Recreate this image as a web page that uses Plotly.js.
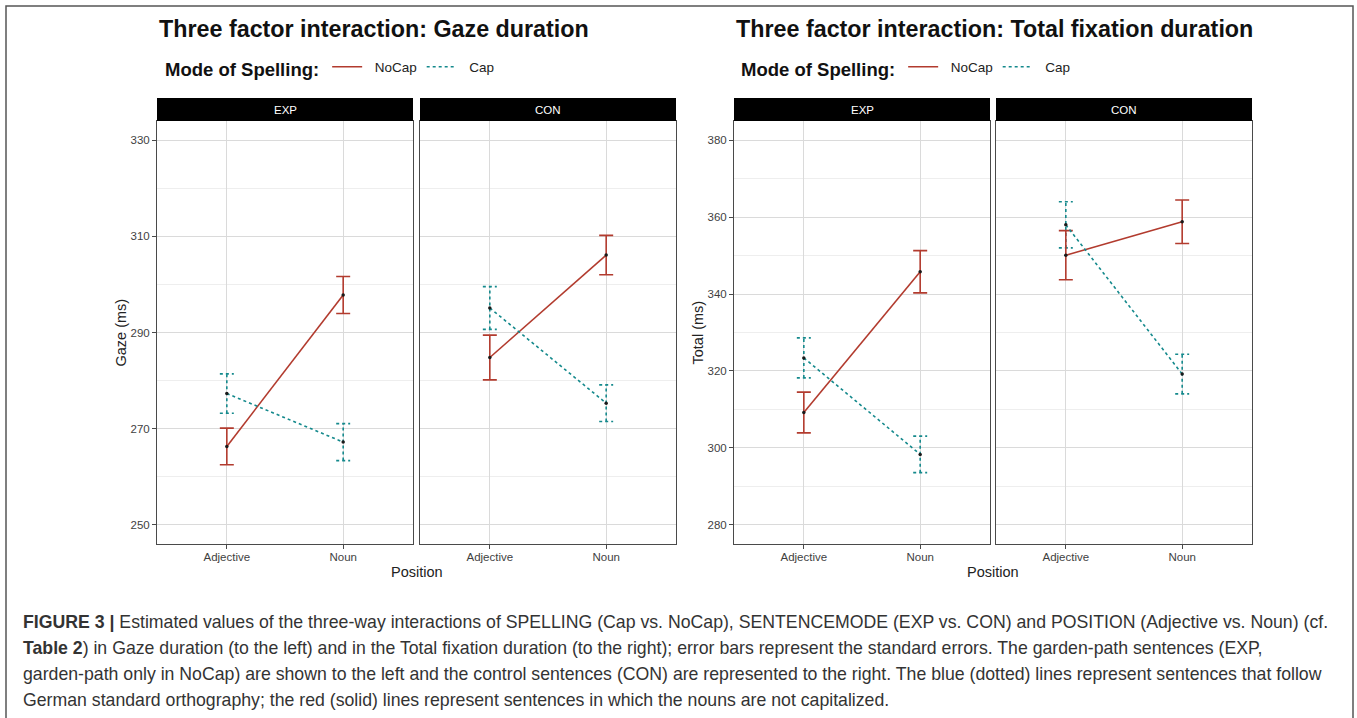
<!DOCTYPE html>
<html>
<head>
<meta charset="utf-8">
<script src="https://cdn.plot.ly/plotly-3.0.1.min.js"></script>
<style>html,body{margin:0;padding:0;background:#fff;}#chart{width:1357px;height:718px;}</style>
</head>
<body>
<div id="chart"></div>
<script>
// ---------------- data ----------------
const positions = ["Adjective", "Noun"];
const spellingModes = ["NoCap", "Cap"];
const sentenceModes = ["EXP", "CON"];

// Gaze duration (ms): mean estimates and standard errors
const gazeExpNoCap = [266.3, 297.8];
const gazeExpNoCapSE = [3.8, 3.85];
const gazeExpCap = [277.3, 267.2];
const gazeExpCapSE = [4.1, 3.85];
const gazeConNoCap = [284.8, 306.1];
const gazeConNoCapSE = [4.65, 4.1];
const gazeConCap = [295.1, 275.3];
const gazeConCapSE = [4.45, 3.8];

// Total fixation duration (ms)
const totalExpNoCap = [309.2, 345.8];
const totalExpNoCapSE = [5.3, 5.5];
const totalExpCap = [323.4, 298.3];
const totalExpCapSE = [5.2, 4.75];
const totalConNoCap = [350.1, 358.8];
const totalConNoCapSE = [6.4, 5.65];
const totalConCap = [358.0, 319.2];
const totalConCapSE = [6.0, 5.15];

const gazeTicks = [250, 270, 290, 310, 330];
const totalTicks = [280, 300, 320, 340, 360, 380];

const captionLines = [
  "<b>FIGURE 3 |</b> Estimated values of the three-way interactions of SPELLING (Cap vs. NoCap), SENTENCEMODE (EXP vs. CON) and POSITION (Adjective vs. Noun) (cf.",
  "<b>Table 2</b>) in Gaze duration (to the left) and in the Total fixation duration (to the right); error bars represent the standard errors. The garden-path sentences (EXP,",
  "garden-path only in NoCap) are shown to the left and the control sentences (CON) are represented to the right. The blue (dotted) lines represent sentences that follow",
  "German standard orthography; the red (solid) lines represent sentences in which the nouns are not capitalized."
];

// ---------------- styling / layout helpers ----------------
const W = 1357, H = 718;
const px = x => x / W;
const py = y => 1 - y / H;
const RED = "#B23B2E";
const TEAL = "#14898C";
const FONT = "Liberation Sans, Arial, Helvetica, sans-serif";
const xs = positions.map((_, i) => i + 1);
const capHalf = 0.06;
const NBSP = "\u00A0\u00A0";

const panels = [
  {xa: "x", ya: "y", left: 157, right: 413, chart: 0, mode: 0},
  {xa: "x2", ya: "y2", left: 420, right: 676, chart: 0, mode: 1},
  {xa: "x3", ya: "y3", left: 734, right: 990, chart: 1, mode: 0},
  {xa: "x4", ya: "y4", left: 996, right: 1252, chart: 1, mode: 1}
];
const plotTop = 121, plotBottom = 544, stripTop = 98;

const seriesByPanel = [
  {noCap: gazeExpNoCap, noCapSE: gazeExpNoCapSE, cap: gazeExpCap, capSE: gazeExpCapSE},
  {noCap: gazeConNoCap, noCapSE: gazeConNoCapSE, cap: gazeConCap, capSE: gazeConCapSE},
  {noCap: totalExpNoCap, noCapSE: totalExpNoCapSE, cap: totalExpCap, capSE: totalExpCapSE},
  {noCap: totalConNoCap, noCapSE: totalConNoCapSE, cap: totalConCap, capSE: totalConCapSE}
];

const traces = [];
panels.forEach((p, i) => {
  const s = seriesByPanel[i];
  const legendName = p.chart === 0 ? "legend" : "legend2";
  const showLeg = p.mode === 0;
  // dotted error bars for Cap (built from data values)
  const ex = [], ey = [];
  xs.forEach((x, k) => {
    const lo = s.cap[k] - s.capSE[k], hi = s.cap[k] + s.capSE[k];
    ex.push(x, x, null, x - capHalf, x + capHalf, null, x - capHalf, x + capHalf, null);
    ey.push(lo, hi, null, lo, lo, null, hi, hi, null);
  });
  traces.push({x: ex, y: ey, xaxis: p.xa, yaxis: p.ya, mode: "lines", showlegend: false,
    line: {color: TEAL, width: 1.6, dash: "dot"}, hoverinfo: "skip"});
  // NoCap error bars (solid)
  traces.push({x: xs, y: s.noCap, xaxis: p.xa, yaxis: p.ya, mode: "markers", showlegend: false,
    marker: {size: 0.1, color: RED},
    error_y: {type: "data", array: s.noCapSE, visible: true, color: RED, thickness: 1.6, width: 7},
    hoverinfo: "skip"});
  // lines
  traces.push({x: xs, y: s.noCap, xaxis: p.xa, yaxis: p.ya, mode: "lines", name: NBSP + spellingModes[0],
    legend: legendName, showlegend: showLeg, legendgroup: "nocap" + p.chart,
    line: {color: RED, width: 1.6}});
  traces.push({x: xs, y: s.cap, xaxis: p.xa, yaxis: p.ya, mode: "lines", name: NBSP + spellingModes[1],
    legend: legendName, showlegend: showLeg, legendgroup: "cap" + p.chart,
    line: {color: TEAL, width: 1.6, dash: "dot"}});
  // points
  traces.push({x: xs.concat(xs), y: s.noCap.concat(s.cap), xaxis: p.xa, yaxis: p.ya, mode: "markers",
    showlegend: false, marker: {size: 3.5, color: "#1a1a1a"}, hoverinfo: "skip"});
});

const legendCommon = {
  orientation: "h", yanchor: "middle", xanchor: "left", y: py(69),
  title: {text: "<b>Mode of Spelling:</b>", side: "left", font: {size: 18.5, family: FONT, color: "#111"}},
  font: {size: 13.5, family: FONT, color: "#222"}, bgcolor: "rgba(0,0,0,0)", itemwidth: 30
};

const layout = {
  width: W, height: H,
  margin: {l: 0, r: 0, t: 0, b: 0},
  paper_bgcolor: "#ffffff", plot_bgcolor: "#ffffff",
  font: {family: FONT, color: "#222"},
  showlegend: true,
  legend: Object.assign({}, legendCommon, {x: px(163)}),
  legend2: Object.assign({}, legendCommon, {x: px(739)}),
  shapes: [],
  annotations: []
};

panels.forEach((p, i) => {
  const n = i === 0 ? "" : String(i + 1);
  const ticks = p.chart === 0 ? gazeTicks : totalTicks;
  const step = ticks[1] - ticks[0];
  const lo = ticks[0], hi = ticks[ticks.length - 1];
  const pad = (hi - lo) * 0.05;
  layout["xaxis" + n] = {
    domain: [px(p.left), px(p.right)], anchor: "y" + n, range: [0.4, 2.6],
    tickvals: xs, ticktext: positions, showgrid: true, gridcolor: "#DADADA", gridwidth: 1,
    zeroline: false, showline: true, mirror: true, linecolor: "#4a4a4a", linewidth: 1,
    ticks: "outside", ticklen: 4, tickcolor: "#4a4a4a", ticklabelstandoff: -2,
    tickfont: {family: FONT, size: 11.5, color: "#3f3f3f"}, automargin: false, fixedrange: true
  };
  layout["yaxis" + n] = {
    domain: [py(plotBottom), py(plotTop)], anchor: "x" + n, range: [lo - pad, hi + pad],
    tick0: lo, dtick: step, showgrid: true, gridcolor: "#DADADA", gridwidth: 1,
    minor: {tick0: lo, dtick: step / 2, showgrid: true, gridcolor: "#EEEEEE", gridwidth: 1.2, ticks: ""},
    zeroline: false, showline: true, mirror: true, linecolor: "#4a4a4a", linewidth: 1,
    ticks: p.mode === 0 ? "outside" : "", ticklen: 4, tickcolor: "#4a4a4a",
    showticklabels: p.mode === 0,
    tickfont: {family: FONT, size: 11.5, color: "#3f3f3f"}, automargin: false, fixedrange: true
  };
  // strip
  layout.shapes.push({type: "rect", xref: "paper", yref: "paper",
    x0: px(p.left), x1: px(p.right), y0: py(plotTop), y1: py(stripTop),
    fillcolor: "#000", line: {width: 0}});
  layout.annotations.push({xref: "paper", yref: "paper", x: px((p.left + p.right) / 2),
    y: py((plotTop + stripTop) / 2), text: sentenceModes[p.mode], showarrow: false,
    xanchor: "center", yanchor: "middle", font: {family: FONT, size: 11.5, color: "#fff"}});
});

// outer frame
layout.shapes.push({type: "path", xref: "paper", yref: "paper",
  path: `M ${px(6)} 0 L ${px(6)} ${py(6)} L ${px(1353)} ${py(6)} L ${px(1353)} 0`,
  line: {color: "#555", width: 1.5}});

// titles
const titles = [
  {text: "<b>Three factor interaction: Gaze duration</b>", x: 157},
  {text: "<b>Three factor interaction: Total fixation duration</b>", x: 734}
];
titles.forEach(t => layout.annotations.push({xref: "paper", yref: "paper", x: px(t.x), y: py(29),
  text: t.text, showarrow: false, xanchor: "left", yanchor: "middle",
  font: {family: FONT, size: 23.3, color: "#111"}}));

// axis titles
[{t: "Position", x: (157 + 676) / 2}, {t: "Position", x: (734 + 1252) / 2}].forEach(a =>
  layout.annotations.push({xref: "paper", yref: "paper", x: px(a.x), y: py(572), text: a.t,
    showarrow: false, xanchor: "center", yanchor: "middle", font: {family: FONT, size: 14.5, color: "#222"}}));
[{t: "Gaze (ms)", x: 120}, {t: "Total (ms)", x: 697}].forEach(a =>
  layout.annotations.push({xref: "paper", yref: "paper", x: px(a.x), y: py((plotTop + plotBottom) / 2),
    text: a.t, textangle: -90, showarrow: false, xanchor: "center", yanchor: "middle",
    font: {family: FONT, size: 14.5, color: "#222"}}));

// caption
const captionY = [622, 648, 674, 700];
captionLines.forEach((line, i) => layout.annotations.push({xref: "paper", yref: "paper",
  x: px(21), y: py(captionY[i]), text: line, showarrow: false, xanchor: "left", yanchor: "middle",
  font: {family: FONT, size: 17.7, color: "#333"}}));

Plotly.newPlot("chart", traces, layout, {displayModeBar: false, staticPlot: true});
</script>
</body>
</html>
